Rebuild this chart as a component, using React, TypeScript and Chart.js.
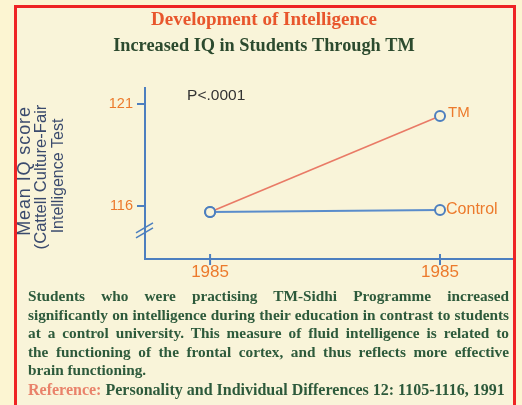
import React, { useEffect, useRef } from "react";
import { Chart, registerables } from "chart.js";

Chart.register(...registerables);

// ---- data ----
const yearLabels = ["1985", "1985"];
const xPositions = [0, 1];
const tmScores = [115.7, 120.4];
const controlScores = [115.7, 115.8];
const yTickValues = [116, 121];
const seriesNames = ["TM", "Control"];
const pValueText = "P<.0001";
const chartTitle = "Development of Intelligence";
const chartSubtitle = "Increased IQ in Students Through TM";
const yAxisTitle = ["Mean IQ score", "(Cattell Culture-Fair", "Intelligence Test"];
const paragraphLines = [
  "Students who were practising TM-Sidhi Programme increased",
  "significantly on intelligence during their education in contrast to students",
  "at a control university. This measure of fluid intelligence is related to",
  "the functioning of the frontal cortex, and thus reflects more effective",
  "brain functioning.",
];
const referenceLabel = "Reference:";
const referenceText = " Personality and Individual Differences 12: 1105-1116, 1991";

// ---- styles ----
const AXIS_BLUE = "#4d7fbf";
const LINE_RED = "#e97a66";
const ORANGE = "#ec7a2c";
const GREEN = "#2d5a3b";
const INNER_BG = "#f9f4d9";
const OUTER_BG = "#fcf5d2";
const SANS = "'Liberation Sans', Arial, sans-serif";
const SERIF = "'Liberation Serif', 'Times New Roman', serif";
const Y_TITLE_FONTS = [18, 16.6, 16];
const Y_TITLE_SPACING = ["0.9px", "0px", "0px"];
const Y_TITLE_X = [25, 41, 59];
const Y_TITLE_Y = [171, 177, 176];

const overlayPlugin = {
  id: "overlay",
  afterDatasetsDraw(chart: any) {
    const ctx = chart.ctx as CanvasRenderingContext2D;
    const xs = chart.scales.x;
    const ys = chart.scales.y;
    ctx.save();
    // x tick marks crossing the axis
    ctx.strokeStyle = AXIS_BLUE;
    ctx.lineWidth = 2;
    xPositions.forEach((v) => {
      const px = xs.getPixelForValue(v);
      ctx.beginPath();
      ctx.moveTo(px, ys.bottom - 5);
      ctx.lineTo(px, ys.bottom + 6);
      ctx.stroke();
    });
    // axis break marks
    const bx = xs.left;
    const by = ys.getPixelForValue(114.8);
    ctx.lineWidth = 1.6;
    [-2.5, 2.5].forEach((d) => {
      ctx.beginPath();
      ctx.moveTo(bx - 9, by + d + 5);
      ctx.lineTo(bx + 8, by + d - 5);
      ctx.stroke();
    });
    // series labels at end points
    ctx.fillStyle = ORANGE;
    ctx.textBaseline = "middle";
    ctx.textAlign = "left";
    chart.data.datasets.forEach((ds: any, i: number) => {
      const meta = chart.getDatasetMeta(i);
      const pt = meta.data[meta.data.length - 1];
      ctx.font = `${i === 0 ? 15 : 16}px ${SANS}`;
      ctx.fillText(seriesNames[i], pt.x + (i === 0 ? 8 : 6), pt.y - (i === 0 ? 3 : 0));
    });
    // p value
    ctx.fillStyle = "#333333";
    ctx.font = `15.5px ${SANS}`;
    ctx.fillText(pValueText, xs.getPixelForValue(-0.1), ys.top + 8);
    // y axis title (three lines, rotated)
    ctx.fillStyle = "#3a4a6d";
    ctx.textAlign = "center";
    yAxisTitle.forEach((line, i) => {
      ctx.save();
      ctx.translate(Y_TITLE_X[i], Y_TITLE_Y[i]);
      ctx.rotate(-Math.PI / 2);
      ctx.font = `${Y_TITLE_FONTS[i]}px ${SANS}`;
      (ctx as any).letterSpacing = Y_TITLE_SPACING[i];
      ctx.fillText(line, 0, 0);
      ctx.restore();
    });
    ctx.restore();
  },
};

export default function App() {
  const canvasRef = useRef<HTMLCanvasElement | null>(null);

  useEffect(() => {
    if (!canvasRef.current) return;
    const chart = new Chart(canvasRef.current, {
      type: "line",
      data: {
        datasets: [
          {
            label: seriesNames[0],
            data: xPositions.map((x, i) => ({ x, y: tmScores[i] })),
            borderColor: LINE_RED,
            borderWidth: 1.6,
            pointRadius: 5,
            pointBorderWidth: 2,
            pointBorderColor: AXIS_BLUE,
            pointBackgroundColor: INNER_BG,
          },
          {
            label: seriesNames[1],
            data: xPositions.map((x, i) => ({ x, y: controlScores[i] })),
            borderColor: "#5a8ccb",
            borderWidth: 2,
            pointRadius: 5,
            pointBorderWidth: 2,
            pointBorderColor: AXIS_BLUE,
            pointBackgroundColor: INNER_BG,
          },
        ],
      },
      options: {
        animation: false,
        responsive: false,
        layout: { padding: { left: 16, right: 10, top: 0, bottom: 122 } },
        plugins: {
          legend: { display: false },
          tooltip: { enabled: false },
          title: {
            display: true,
            text: chartTitle,
            color: "#e8562c",
            font: { family: SERIF, size: 19, weight: "bold", lineHeight: 1.2 },
            padding: { top: 9, bottom: 3 },
          },
          subtitle: {
            display: true,
            text: chartSubtitle,
            color: "#2c4a2e",
            font: { family: SERIF, size: 18.3, weight: "bold", lineHeight: 1.2 },
            padding: { top: 0, bottom: 31 },
          },
        },
        scales: {
          x: {
            type: "linear",
            min: -0.283,
            max: 1.313,
            afterBuildTicks: (scale: any) => {
              scale.ticks = xPositions.map((v) => ({ value: v }));
            },
            afterFit: (scale: any) => {
              scale.height = 24;
            },
            ticks: {
              color: ORANGE,
              font: { family: SANS, size: 17 },
              padding: 3,
              maxRotation: 0,
              autoSkip: false,
              callback: (v: any) => {
                const idx = xPositions.indexOf(Number(v));
                return idx >= 0 ? yearLabels[idx] : "";
              },
            },
            grid: { display: false, drawTicks: false },
            border: { display: true, color: AXIS_BLUE, width: 2 },
          },
          y: {
            type: "linear",
            min: 113.4,
            max: 121.78,
            afterBuildTicks: (scale: any) => {
              scale.ticks = yTickValues.map((v) => ({ value: v }));
            },
            afterFit: (scale: any) => {
              scale.width = 129;
            },
            ticks: {
              color: ORANGE,
              font: { family: SANS, size: 14.5 },
              padding: 4,
            },
            grid: {
              drawOnChartArea: false,
              drawTicks: true,
              tickLength: 8,
              color: AXIS_BLUE,
              lineWidth: 2,
            },
            border: { display: true, color: AXIS_BLUE, width: 2 },
            title: { display: false },
          },
        },
      },
      plugins: [overlayPlugin],
    } as any);
    return () => chart.destroy();
  }, []);

  return (
    <div
      style={{
        position: "fixed",
        left: 0,
        top: 0,
        width: 522,
        height: 405,
        overflow: "hidden",
        background: OUTER_BG,
      }}
    >
      <div
        style={{
          position: "absolute",
          left: 14,
          top: 5,
          width: 496,
          height: 420,
          border: "3px solid #ee2424",
          background: INNER_BG,
        }}
      />
      <canvas
        ref={canvasRef}
        width={522}
        height={405}
        style={{ position: "absolute", left: 0, top: 0, width: 522, height: 405 }}
      />
      <div
        style={{
          position: "absolute",
          left: 28,
          top: 287,
          width: 481,
          fontFamily: SERIF,
          fontWeight: "bold",
          fontSize: 15.3,
          lineHeight: "18.6px",
          color: GREEN,
        }}
      >
        {paragraphLines.map((line, i) => (
          <div
            key={i}
            style={{
              textAlign: i < paragraphLines.length - 1 ? "justify" : "left",
              textAlignLast: i < paragraphLines.length - 1 ? "justify" : "left",
              whiteSpace: "nowrap",
            }}
          >
            {line}
          </div>
        ))}
        <div style={{ whiteSpace: "nowrap", fontSize: 16, lineHeight: "19px" }}>
          <span style={{ color: "#e9826a" }}>{referenceLabel}</span>
          {referenceText}
        </div>
      </div>
    </div>
  );
}
